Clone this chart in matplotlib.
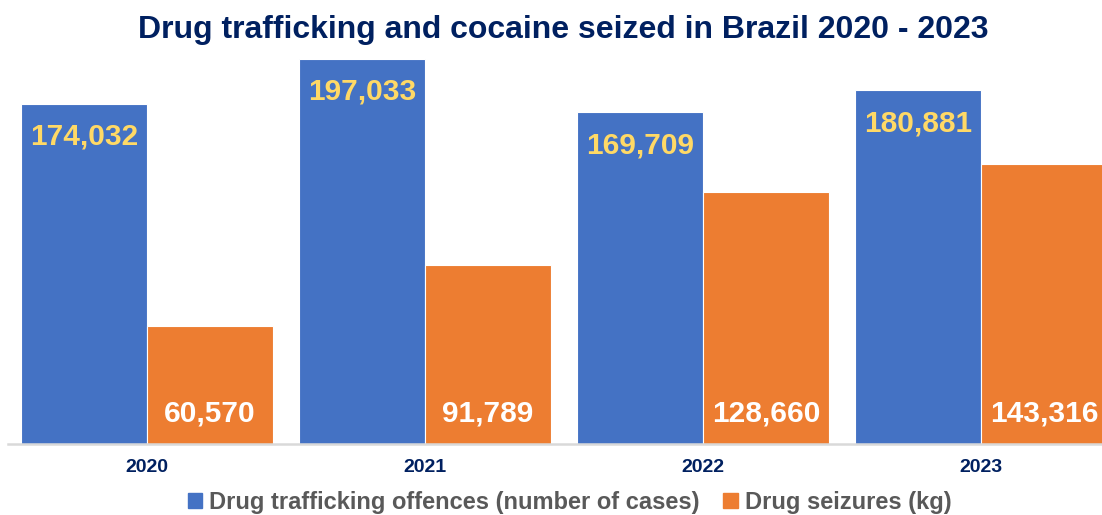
import numpy as np
import matplotlib.pyplot as plt
from matplotlib.patches import Patch

years = ['2020', '2021', '2022', '2023']
offences = [174032, 197033, 169709, 180881]
seizures = [60570, 91789, 128660, 143316]

blue = '#4472C4'
orange = '#ED7D31'
navy = '#002060'

plt.rcParams['font.family'] = ['Liberation Sans', 'DejaVu Sans']

fig = plt.figure(figsize=(11.02, 5.15), dpi=100)
ax = fig.add_axes([8 / 1102, 71 / 515, 1 - 8 / 1102, 391 / 515])

x = np.arange(len(years))
w = 0.453
b1 = ax.bar(x - w / 2, offences, w, color=blue, edgecolor='white', linewidth=0.8)
b2 = ax.bar(x + w / 2, seizures, w, color=orange, edgecolor='white', linewidth=0.8)

for rect, v in zip(b1, offences):
    ax.annotate(f'{v:,}', (rect.get_x() + rect.get_width() / 2, v),
                xytext=(0, -33), textcoords='offset pixels', ha='center', va='center',
                color='#FFD966', fontsize=21.5, fontweight='bold')
for rect, v in zip(b2, seizures):
    ax.annotate(f'{v:,}', (rect.get_x() + rect.get_width() / 2, 0),
                xytext=(0, 31), textcoords='offset pixels', ha='center', va='center',
                color='white', fontsize=21.5, fontweight='bold')

ax.set_xlim(-0.5, 3.435)
ax.set_ylim(0, 200000)
ax.set_xticks(x)
ax.set_xticklabels(years, fontsize=14, fontweight='bold', color=navy)
ax.tick_params(axis='x', length=0, pad=11)
ax.set_yticks([])
for s in ['top', 'right', 'left']:
    ax.spines[s].set_visible(False)
ax.spines['bottom'].set_color('#D9D9D9')
ax.spines['bottom'].set_linewidth(1.8)

fig.text(0.511, 1 - 30 / 515, 'Drug trafficking and cocaine seized in Brazil 2020 - 2023',
         ha='center', va='center', fontsize=23, fontweight='bold', color=navy)

handles = [Patch(color=blue, label='Drug trafficking offences (number of cases)'),
           Patch(color=orange, label='Drug seizures (kg)')]
fig.legend(handles=handles, loc='center', bbox_to_anchor=(0.517, 1 - 502 / 515), ncol=2,
           frameon=False, prop={'size': 17, 'weight': 'bold'}, labelcolor='#595959',
           handlelength=0.6, handleheight=0.6, handletextpad=0.3, columnspacing=1.0,
           borderpad=0.1)

fig.savefig('out.png', dpi=100)
